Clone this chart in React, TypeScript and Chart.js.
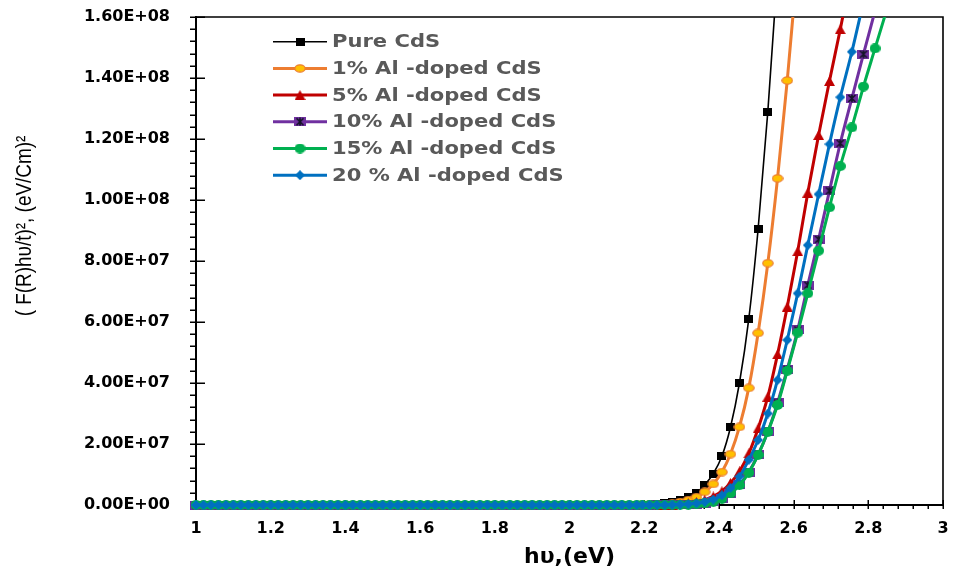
import React, { useEffect, useRef } from "react";
import { Chart, registerables } from "chart.js";

Chart.register(...registerables);

// Photon energy (eV) of the flat, zero-absorption part of every curve
const BASELINE_ENERGY = [
  1.0, 1.02, 1.04, 1.06, 1.08, 1.1, 1.12, 1.14, 1.16, 1.18,
  1.2, 1.22, 1.24, 1.26, 1.28, 1.3, 1.32, 1.34, 1.36, 1.38,
  1.4, 1.42, 1.44, 1.46, 1.48, 1.5, 1.52, 1.54, 1.56, 1.58,
  1.6, 1.62, 1.64, 1.66, 1.68, 1.7, 1.72, 1.74, 1.76, 1.78,
  1.8, 1.82, 1.84, 1.86, 1.88, 1.9, 1.92, 1.94, 1.96, 1.98,
  2.0, 2.02, 2.04, 2.06, 2.08, 2.1, 2.12, 2.14, 2.16, 2.18,
];
const BASELINE_VALUE = [
  0, 0, 0, 0, 0, 0, 0, 0, 0, 0,
  0, 0, 0, 0, 0, 0, 0, 0, 0, 0,
  0, 0, 0, 0, 0, 0, 0, 0, 0, 0,
  0, 0, 0, 0, 0, 0, 0, 0, 0, 0,
  0, 0, 0, 0, 0, 0, 0, 0, 0, 0,
  0, 0, 0, 0, 0, 0, 0, 0, 0, 0,
];

// Photon energy (eV) of the absorption-edge points (shared by all samples)
const EDGE_ENERGY = [
  2.195, 2.214, 2.234, 2.255, 2.275, 2.296, 2.318, 2.34, 2.362, 2.385,
  2.408, 2.431, 2.455, 2.48, 2.505, 2.531, 2.557, 2.583, 2.611, 2.638,
  2.667, 2.696, 2.725, 2.756, 2.787, 2.818, 2.851,
];

// (F(R)hv/t)^2 values, in units of 1e6 (eV/cm)^2
const PURE_CDS = [
  0.05, 0.1, 0.25, 0.5, 0.9, 1.6, 2.6, 4.0, 6.6, 10.3,
  16.0, 25.5, 40.0, 61.0, 90.5, 129.0, 175, 230,
];
const AL_1 = [
  0.03, 0.07, 0.15, 0.3, 0.55, 0.95, 1.6, 2.6, 4.3, 6.9,
  10.8, 16.7, 25.6, 38.4, 56.4, 79.3, 107.1, 139.2, 178, 220,
];
const AL_5 = [
  0, 0.01, 0.03, 0.07, 0.15, 0.3, 0.55, 1.0, 1.7, 2.8,
  4.5, 7.2, 11.0, 16.9, 25.1, 35.5, 49.4, 65.0, 83.2, 102.4,
  121.3, 139.0, 156.0, 175,
];
const AL_10 = [
  0, 0, 0.01, 0.02, 0.04, 0.08, 0.15, 0.3, 0.6, 1.1,
  2.1, 3.8, 6.6, 10.8, 16.5, 24.0, 33.5, 44.5, 57.4, 72.1,
  87.1, 103.0, 118.6, 133.3, 147.8, 162,
];
const AL_15 = [
  0, 0, 0, 0.01, 0.02, 0.05, 0.1, 0.25, 0.55, 1.1,
  2.1, 3.8, 6.5, 10.6, 16.4, 24.0, 32.8, 44.0, 56.5, 69.4,
  83.4, 97.6, 111.1, 123.8, 137.2, 149.7, 163,
];
const AL_20 = [
  0, 0.01, 0.02, 0.04, 0.08, 0.15, 0.3, 0.55, 1.0, 1.8,
  3.2, 5.6, 9.3, 14.8, 21.3, 30.0, 41.0, 54.1, 69.4, 85.2,
  101.9, 118.3, 133.7, 148.6, 165,
];
const UNIT = 1e6;

const SERIES_NAMES = [
  "Pure CdS",
  "1% Al -doped CdS",
  "5% Al -doped CdS",
  "10% Al -doped CdS",
  "15% Al -doped CdS",
  "20 % Al -doped CdS",
];
const SERIES_VALUES = [PURE_CDS, AL_1, AL_5, AL_10, AL_15, AL_20];

const X_MIN = 1;
const X_MAX = 3;
const X_STEP = 0.2;
const Y_MIN = 0;
const Y_MAX = 1.6e8;
const Y_STEP = 2e7;

const X_TITLE = "hυ,(eV)";
const Y_TITLE = "( F(R)hυ/t)², (eV/Cm)²";

const LINE_COLORS = ["#000000", "#ED7D31", "#C00000", "#7030A0", "#00B050", "#0070C0"];
const LINE_WIDTHS = [1.6, 3, 3, 3, 3, 3];

function makeMarker(w: number, h: number, paint: (g: CanvasRenderingContext2D, w: number, h: number) => void) {
  const c = document.createElement("canvas");
  c.width = w;
  c.height = h;
  const g = c.getContext("2d") as CanvasRenderingContext2D;
  paint(g, w, h);
  return c;
}

function buildMarkers() {
  const square = makeMarker(9, 8, (g, w, h) => {
    g.fillStyle = "#000";
    g.fillRect(0, 0, w, h);
  });
  const orange = makeMarker(12, 9, (g, w, h) => {
    g.beginPath();
    g.ellipse(w / 2, h / 2, w / 2 - 0.8, h / 2 - 0.8, 0, 0, Math.PI * 2);
    g.fillStyle = "#FFC000";
    g.fill();
    g.lineWidth = 1.2;
    g.strokeStyle = "#ED7D31";
    g.stroke();
  });
  const tri = makeMarker(11, 10, (g, w, h) => {
    g.beginPath();
    g.moveTo(w / 2, 0);
    g.lineTo(w, h);
    g.lineTo(0, h);
    g.closePath();
    g.fillStyle = "#C00000";
    g.fill();
  });
  const star = makeMarker(12, 9, (g, w, h) => {
    g.fillStyle = "#7030A0";
    g.fillRect(0, 0, w, h);
    g.strokeStyle = "#141428";
    g.lineWidth = 1.7;
    g.beginPath();
    g.moveTo(2.5, 1);
    g.lineTo(w - 2.5, h - 1);
    g.moveTo(w - 2.5, 1);
    g.lineTo(2.5, h - 1);
    g.moveTo(w / 2, 0.5);
    g.lineTo(w / 2, h - 0.5);
    g.stroke();
  });
  const green = makeMarker(11, 10, (g, w, h) => {
    g.beginPath();
    g.ellipse(w / 2, h / 2, w / 2, h / 2, 0, 0, Math.PI * 2);
    g.fillStyle = "#00B050";
    g.fill();
  });
  const diamond = makeMarker(10, 10, (g, w, h) => {
    g.beginPath();
    g.moveTo(w / 2, 0);
    g.lineTo(w, h / 2);
    g.lineTo(w / 2, h);
    g.lineTo(0, h / 2);
    g.closePath();
    g.fillStyle = "#0070C0";
    g.fill();
  });
  return [square, orange, tri, star, green, diamond];
}

function sci(v: number) {
  if (v === 0) return "0.00E+00";
  const [m, e] = v.toExponential(2).split("e");
  const n = parseInt(e, 10);
  return m + "E" + (n < 0 ? "-" : "+") + String(Math.abs(n)).padStart(2, "0");
}

export default function App() {
  const ref = useRef<HTMLCanvasElement | null>(null);

  useEffect(() => {
    document.body.style.margin = "0";
    const canvas = ref.current;
    if (!canvas) return;
    const markers = buildMarkers();

    const datasets = SERIES_VALUES.map((vals, si) => ({
      label: SERIES_NAMES[si],
      data: [
        ...BASELINE_ENERGY.map((x, i) => ({ x, y: BASELINE_VALUE[i] })),
        ...vals.map((v, i) => ({ x: EDGE_ENERGY[i], y: v * UNIT })),
      ],
      borderColor: LINE_COLORS[si],
      backgroundColor: LINE_COLORS[si],
      borderWidth: LINE_WIDTHS[si],
      pointStyle: markers[si],
      pointRadius: 4,
      cubicInterpolationMode: "monotone" as const,
      tension: 0.4,
      order: SERIES_VALUES.length - 1 - si,
      clip: { left: 10, top: 0, right: 0, bottom: 10 },
    }));

    const frame = {
      id: "frame",
      beforeDatasetsDraw(chart: any) {
        const { ctx, chartArea: a, scales } = chart;
        const xs = scales.x;
        const ys = scales.y;
        ctx.save();
        ctx.strokeStyle = "#000";
        // top and right border
        ctx.lineWidth = 1.6;
        ctx.beginPath();
        ctx.moveTo(a.left, a.top);
        ctx.lineTo(a.right, a.top);
        ctx.lineTo(a.right, a.bottom);
        ctx.stroke();
        // axes
        ctx.lineWidth = 2;
        ctx.beginPath();
        ctx.moveTo(a.left, a.top - 1);
        ctx.lineTo(a.left, a.bottom);
        ctx.lineTo(a.right + 1, a.bottom);
        ctx.stroke();
        // y ticks
        ctx.lineWidth = 1.5;
        ctx.beginPath();
        for (let k = 0; k <= 40; k++) {
          const v = Y_MIN + (k * (Y_MAX - Y_MIN)) / 40;
          const py = Math.round(ys.getPixelForValue(v)) + 0.25;
          const major = k % 5 === 0;
          ctx.moveTo(a.left - 6, py);
          ctx.lineTo(major ? a.left + 9 : a.left, py);
        }
        // x ticks
        for (let k = 0; k <= 50; k++) {
          const v = X_MIN + (k * (X_MAX - X_MIN)) / 50;
          const px = Math.round(xs.getPixelForValue(v)) + 0.25;
          const major = k % 5 === 0;
          ctx.moveTo(px, a.bottom + 4);
          ctx.lineTo(px, major ? a.bottom - 5 : a.bottom);
        }
        ctx.stroke();
        ctx.restore();
      },
      afterDraw(chart: any) {
        const { ctx, chartArea: a } = chart;
        ctx.save();
        // legend
        const rowY0 = 41.7;
        const rowH = 26.7;
        SERIES_NAMES.forEach((name, i) => {
          const y = rowY0 + i * rowH;
          ctx.strokeStyle = LINE_COLORS[i];
          ctx.lineWidth = LINE_WIDTHS[i];
          ctx.beginPath();
          ctx.moveTo(273, y);
          ctx.lineTo(327, y);
          ctx.stroke();
          const m = markers[i];
          ctx.drawImage(m, 300 - m.width / 2, y - m.height / 2);
          ctx.save();
          ctx.translate(332, y + 1);
          ctx.scale(1.17, 1);
          ctx.fillStyle = "#595959";
          ctx.font = "bold 18px 'DejaVu Sans'";
          ctx.textBaseline = "middle";
          ctx.textAlign = "left";
          ctx.fillText(name, 0, 0);
          ctx.restore();
        });
        // x title
        ctx.fillStyle = "#000";
        ctx.font = "bold 22px 'DejaVu Sans'";
        ctx.textAlign = "center";
        ctx.textBaseline = "middle";
        ctx.fillText(X_TITLE, (a.left + a.right) / 2, 557);
        // y title
        ctx.save();
        ctx.translate(25, 226);
        ctx.rotate(-Math.PI / 2);
        ctx.scale(0.86, 1);
        ctx.font = "22px 'Liberation Sans', sans-serif";
        ctx.fillStyle = "#000";
        ctx.textAlign = "center";
        ctx.textBaseline = "middle";
        ctx.fillText(Y_TITLE, 0, 0);
        ctx.restore();
        ctx.restore();
      },
    };

    const chart = new Chart(canvas, {
      type: "line",
      data: { datasets: datasets as any },
      options: {
        animation: false,
        responsive: false,
        devicePixelRatio: 1,
        layout: { autoPadding: false, padding: { top: 17, right: 10, left: 0, bottom: 0 } },
        plugins: { legend: { display: false }, tooltip: { enabled: false } },
        scales: {
          x: {
            type: "linear",
            min: X_MIN,
            max: X_MAX,
            grid: { display: false, drawTicks: false },
            border: { display: false },
            ticks: {
              stepSize: X_STEP,
              padding: 14,
              color: "#000",
              font: { family: "DejaVu Sans", size: 16, weight: "bold" },
              maxRotation: 0,
              autoSkip: false,
              callback: (v: any) => String(Math.round(Number(v) * 10) / 10),
            },
            afterFit: (s: any) => {
              s.height = 67;
              s.paddingLeft = 0;
              s.paddingRight = 0;
              s.paddingTop = 0;
              s.paddingBottom = 0;
            },
          },
          y: {
            type: "linear",
            min: Y_MIN,
            max: Y_MAX,
            grid: { display: false, drawTicks: false },
            border: { display: false },
            ticks: {
              stepSize: Y_STEP,
              padding: 26,
              color: "#000",
              font: { family: "DejaVu Sans", size: 16, weight: "bold" },
              callback: (v: any) => sci(Number(v)),
            },
            afterFit: (s: any) => {
              s.width = 196;
              s.paddingLeft = 0;
              s.paddingRight = 0;
              s.paddingTop = 0;
              s.paddingBottom = 0;
            },
          },
        },
      },
      plugins: [frame],
    });

    return () => chart.destroy();
  }, []);

  return (
    <div style={{ width: 953, height: 572, background: "#fff" }}>
      <canvas ref={ref} width={953} height={572} style={{ display: "block" }} />
    </div>
  );
}
